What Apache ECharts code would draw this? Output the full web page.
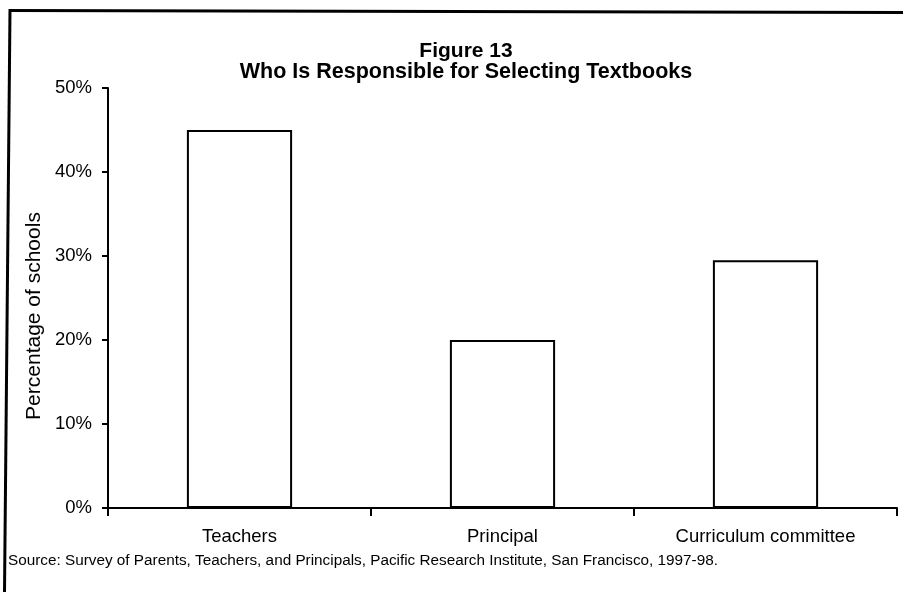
<!DOCTYPE html>
<html>
<head>
<meta charset="utf-8">
<script src="https://cdn.jsdelivr.net/npm/echarts@6/dist/echarts.min.js"></script>
<style>
html,body{margin:0;padding:0;background:#fff;}
#chart{width:903px;height:592px;}
</style>
</head>
<body>
<div id="chart"></div>
<script>
const categories = ['Teachers', 'Principal', 'Curriculum committee'];
const values = [45, 20, 29.5];
const yTicks = [0, 10, 20, 30, 40, 50];
const titleLine1 = 'Figure 13';
const titleLine2 = 'Who Is Responsible for Selecting Textbooks';
const yName = 'Percentage of schools';
const sourceText = 'Source: Survey of Parents, Teachers, and Principals, Pacific Research Institute, San Francisco, 1997-98.';

const FONT = "'Liberation Sans', Arial, Helvetica, sans-serif";
const chart = echarts.init(document.getElementById('chart'), null, {renderer: 'canvas'});

chart.setOption({
  backgroundColor: '#fff',
  animation: false,
  textStyle: {fontFamily: FONT, color: '#000'},
  title: [
    {text: titleLine1, left: 466, top: 41, textAlign: 'center', padding: 0,
     textStyle: {fontFamily: FONT, fontSize: 21, fontWeight: 'bold', color: '#000'}},
    {text: titleLine2, left: 466, top: 61, textAlign: 'center', padding: 0,
     textStyle: {fontFamily: FONT, fontSize: 21.5, fontWeight: 'bold', color: '#000'}}
  ],
  grid: {left: 108, right: 6, top: 88, bottom: 84},
  xAxis: {
    type: 'category',
    data: categories,
    boundaryGap: true,
    axisLine: {show: true, lineStyle: {color: '#000', width: 2}},
    axisTick: {show: true, length: 8, lineStyle: {color: '#000', width: 2}},
    axisLabel: {color: '#000', fontSize: 18.5, fontFamily: FONT, margin: 19, interval: 0}
  },
  yAxis: {
    type: 'value',
    min: yTicks[0],
    max: yTicks[yTicks.length - 1],
    interval: yTicks[1] - yTicks[0],
    axisLine: {show: true, lineStyle: {color: '#000', width: 2}},
    axisTick: {show: true, length: 6, lineStyle: {color: '#000', width: 2}},
    axisLabel: {color: '#000', fontSize: 18.5, fontFamily: FONT, margin: 16, formatter: '{value}%'},
    splitLine: {show: false}
  },
  series: [{
    type: 'bar',
    data: values,
    barWidth: '40%',
    itemStyle: {color: '#fff', borderColor: '#000', borderWidth: 2},
    emphasis: {disabled: true}
  }],
  graphic: [
    {type: 'line', shape: {x1: 10, y1: 9, x2: 4.5, y2: 592}, style: {stroke: '#000', lineWidth: 3}, silent: true},
    {type: 'line', shape: {x1: 9, y1: 10.5, x2: 903, y2: 12.5}, style: {stroke: '#000', lineWidth: 3}, silent: true},
    {type: 'text', x: 34, y: 316, rotation: Math.PI / 2,
     style: {text: yName, fontSize: 21, fontFamily: FONT, fill: '#000', align: 'center', verticalAlign: 'middle'}},
    {type: 'text', x: 8, y: 561,
     style: {text: sourceText, fontSize: 15.3, fontFamily: FONT, fill: '#000', align: 'left', verticalAlign: 'middle'}}
  ]
});
</script>
</body>
</html>
